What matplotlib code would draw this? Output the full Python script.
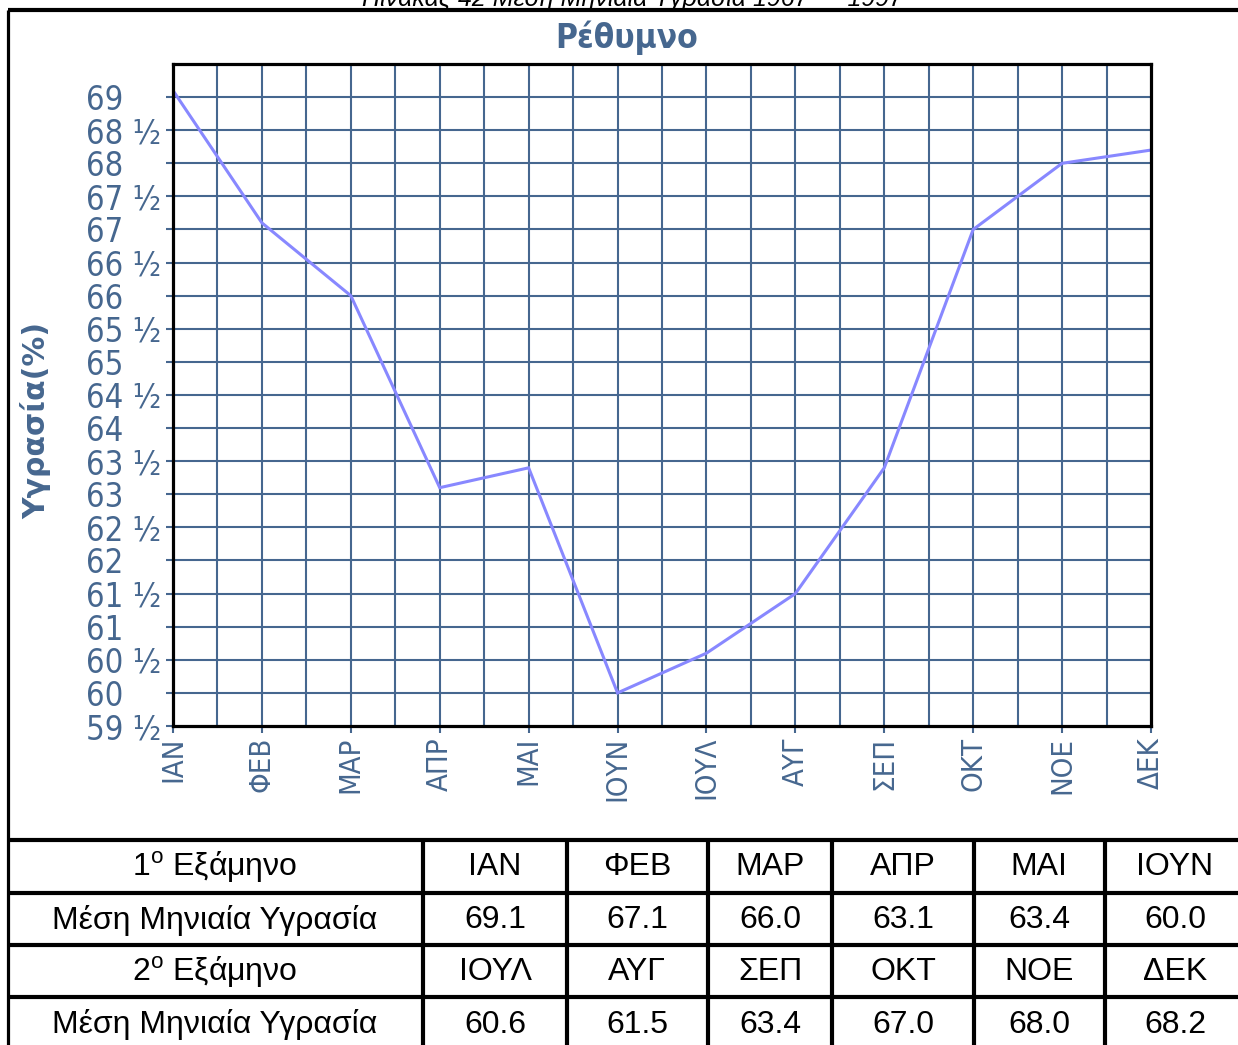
import matplotlib
matplotlib.use("Agg")
import matplotlib.pyplot as plt

# Monthly mean humidity, Rethymno
months = ["ΙΑΝ", "ΦΕΒ", "ΜΑΡ", "ΑΠΡ", "ΜΑΙ", "ΙΟΥΝ",
          "ΙΟΥΛ", "ΑΥΓ", "ΣΕΠ", "ΟΚΤ", "ΝΟΕ", "ΔΕΚ"]
humidity = [69.1, 67.1, 66.0, 63.1, 63.4, 60.0,
            60.6, 61.5, 63.4, 67.0, 68.0, 68.2]

y_ticks = [59.5, 60, 60.5, 61, 61.5, 62, 62.5, 63, 63.5, 64,
           64.5, 65, 65.5, 66, 66.5, 67, 67.5, 68, 68.5, 69]
y_tick_labels = ["59 ½", "60", "60 ½", "61", "61 ½", "62", "62 ½", "63", "63 ½", "64",
                 "64 ½", "65", "65 ½", "66", "66 ½", "67", "67 ½", "68", "68 ½", "69"]

half_labels = ["1$^{\\mathrm{o}}$ Εξάμηνο", "2$^{\\mathrm{o}}$ Εξάμηνο"]
value_label = "Μέση Μηνιαία Υγρασία"

title = "Ρέθυμνο"
ylabel = "Υγρασία(%)"
caption = "Πίνακας 42 Μέση Μηνιαία Υγρασία 1967 — 1997"

plt.rcParams["mathtext.fontset"] = "custom"
plt.rcParams["mathtext.rm"] = "Liberation Sans"

BLUE = "#46678f"
LINE = "#8888ff"
COND = ["DejaVu Sans"]
ARIAL = ["Liberation Sans", "DejaVu Sans"]

W, H = 1238, 1045
fig = plt.figure(figsize=(W / 100, H / 100), dpi=100)

# Page layer in pixel coordinates (frame, table)
bg = fig.add_axes([0, 0, 1, 1], zorder=0)
bg.set_xlim(0, W)
bg.set_ylim(H, 0)
bg.axis("off")

# Chart
ax = fig.add_axes([173 / W, 1 - 726 / H, 978 / W, 662 / H], zorder=1)
x = list(range(len(months)))
ax.plot(x, humidity, color=LINE, lw=2.2, zorder=3, solid_joinstyle="miter")
ax.set_xlim(0, len(months) - 1)
ax.set_ylim(59.5, 69.5)

# half-step grid
for i in range(1, 2 * (len(months) - 1)):
    ax.axvline(i / 2, color=BLUE, lw=1.5, zorder=1)
for v in y_ticks[1:]:
    ax.axhline(v, color=BLUE, lw=1.5, zorder=1)

for s in ax.spines.values():
    s.set_color("black")
    s.set_linewidth(2.3)
    s.set_zorder(4)

ax.set_xticks(x)
ax.set_xticklabels(months, rotation=90, va="top", ha="center",
                   family=COND, stretch="condensed", fontsize=21, color=BLUE)
ax.tick_params(axis="x", length=5, width=1.5, color=BLUE, pad=3)

ax.set_yticks(y_ticks)
ax.set_yticklabels(y_tick_labels, family=COND, stretch="condensed",
                   fontsize=23.5, color=BLUE)
ax.tick_params(axis="y", length=5, width=1.5, color=BLUE, pad=58)
for lab in ax.get_yticklabels():
    lab.set_horizontalalignment("left")

fig.text(36 / W, 1 - 420 / H, ylabel, rotation=90, ha="center", va="center",
         fontsize=21.5, fontweight="bold", color=BLUE, family=["DejaVu Sans"])
fig.text(627 / W, 1 - 38 / H, title, ha="center", va="center",
         fontsize=24, fontweight="bold", color=BLUE, family=COND, stretch="condensed")
fig.text(632 / W, 1 - 6 / H, caption, ha="center", va="baseline",
         fontsize=18, style="italic", color="black", family=ARIAL)

# Frame and table
lw = 3.0
bg.plot([8, W], [10, 10], color="black", lw=lw, solid_capstyle="butt")
bg.plot([8, 8], [10, H], color="black", lw=2.3, solid_capstyle="butt")
row_edges = [840, 893, 945, 997]
for r in row_edges:
    bg.plot([8, W], [r, r], color="black", lw=lw, solid_capstyle="butt")
col_edges = [423, 567, 708, 832, 974, 1105]
for c in col_edges:
    bg.plot([c, c], [840, H], color="black", lw=lw, solid_capstyle="butt")

col_centers = [215, 495, 637, 770, 903, 1039, 1175]
row_centers = [867, 920, 972, 1025]
rows = [
    [half_labels[0]] + months[:6],
    [value_label] + [f"{v:.1f}" for v in humidity[:6]],
    [half_labels[1]] + months[6:],
    [value_label] + [f"{v:.1f}" for v in humidity[6:]],
]
for ry, row in zip(row_centers, rows):
    for cx, txt in zip(col_centers, row):
        bg.text(cx, ry, txt, ha="center", va="center", fontsize=23,
                family=ARIAL, color="black")

fig.savefig("out.png", dpi=100)
